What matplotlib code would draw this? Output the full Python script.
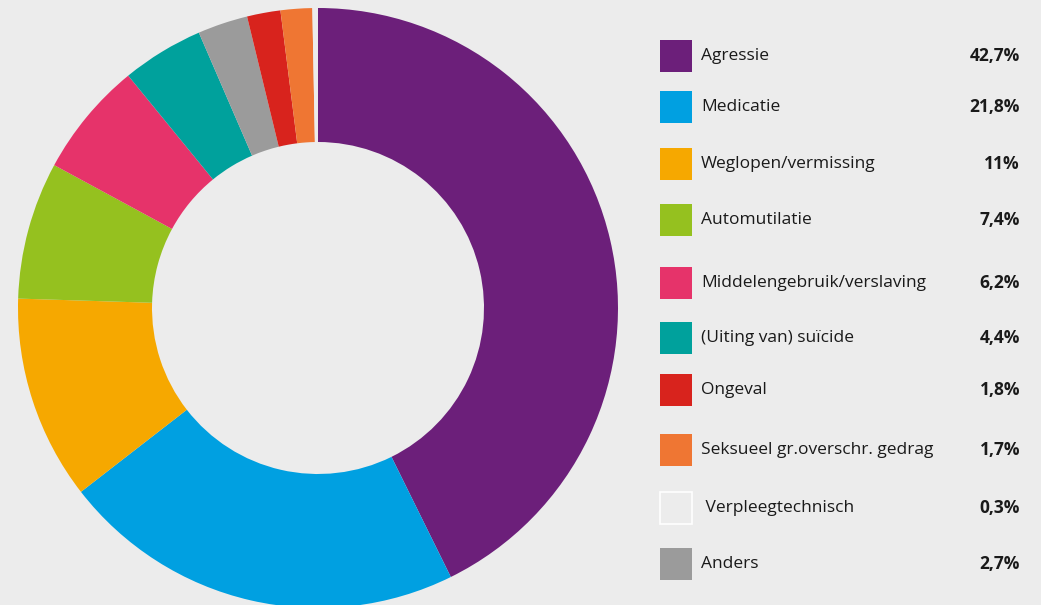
import matplotlib.pyplot as plt
from matplotlib.patches import Rectangle

# Incident categories and their share (%)
labels = ['Agressie', 'Medicatie', 'Weglopen/vermissing', 'Automutilatie',
          'Middelengebruik/verslaving', '(Uiting van) suïcide', 'Ongeval',
          'Seksueel gr.overschr. gedrag', ' Verpleegtechnisch', 'Anders']
values = [42.7, 21.8, 11, 7.4, 6.2, 4.4, 1.8, 1.7, 0.3, 2.7]
value_text = ['42,7%', '21,8%', '11%', '7,4%', '6,2%', '4,4%', '1,8%',
              '1,7%', '0,3%', '2,7%']
colors = ['#6c1f7a', '#00a0e1', '#f6a800', '#95c11f', '#e6336a',
          '#00a19c', '#d8231d', '#ef7633', '#ececec', '#9b9b9b']

# order of the slices clockwise from the top of the ring
ring_order = [0, 1, 2, 3, 4, 5, 9, 6, 7, 8]

bg = '#ececec'
plt.rcParams['font.family'] = ['Open Sans', 'DejaVu Sans']

fig = plt.figure(figsize=(10.41, 6.05), dpi=100, facecolor=bg)
ax = fig.add_axes([0, 0, 1, 1])
ax.set_facecolor(bg)

ax.pie([values[i] for i in ring_order],
       colors=[colors[i] for i in ring_order],
       startangle=90, counterclock=False,
       center=(318, 297), radius=300, frame=True,
       wedgeprops=dict(width=134, edgecolor='none'))
ax.set_xlim(0, 1041)
ax.set_ylim(0, 605)
ax.set_aspect('equal')
ax.axis('off')

# legend rows (pixel centres from the top)
row_y = [56, 107, 164, 220, 283, 338, 390, 450, 508, 564]
for lab, txt, col, y in zip(labels, value_text, colors, row_y):
    yy = 605 - y
    edge = 'white' if col == bg else 'none'
    ax.add_patch(Rectangle((660, yy - 16), 32, 32, facecolor=col,
                           edgecolor=edge, linewidth=1.2))
    ax.text(701, yy, lab, va='center', ha='left', fontsize=12.5,
            color='#1a1a1a')
    ax.text(1020, yy, txt, va='center', ha='right', fontsize=12.5,
            fontweight='bold', color='#1a1a1a')

fig.savefig('out.png', dpi=100, facecolor=bg)
